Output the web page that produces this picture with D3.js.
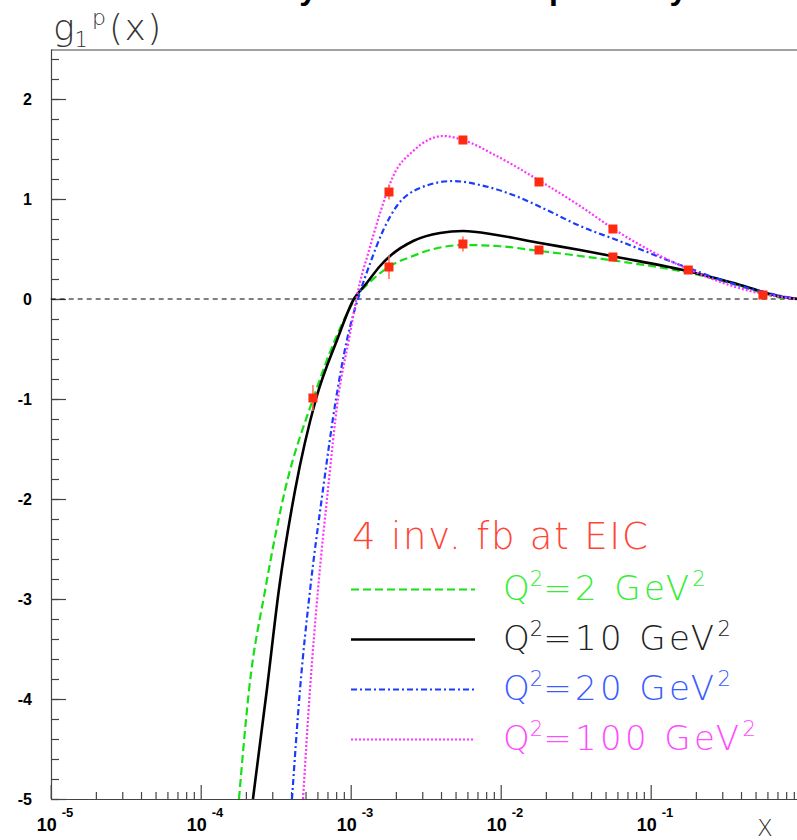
<!DOCTYPE html>
<meta charset="utf-8">
<style>
    body { margin: 0; background: #fff; }
    svg { background-color: #fff; display: block; }
    .tick text { font: bold 16px "Liberation Sans", Arial, sans-serif; fill: #000; }
    .thin { font-family: "DejaVu Sans", sans-serif; font-weight: 200; }
</style>
<body>
<script src="https://cdn.jsdelivr.net/npm/d3@7"></script>
<script>

    var width = 797,
        height = 840;

    // x positions of the curves (Bjorken x) and g1p values
    var xQ2 = [1.80e-4, 2.10e-4, 2.69e-4, 3.65e-4, 5.61e-4, 7.85e-4, 1.07e-3, 1.49e-3, 1.83e-3, 2.5e-3,
               3.38e-3, 5.61e-3, 9.44e-3, 1.83e-2, 3.03e-2, 5.94e-2, 0.183, 0.376, 0.762, 0.96];
    var yQ2 = [-5.0, -3.91, -2.91, -1.91, -1.0, -0.41, 0.0, 0.23, 0.33, 0.42,
               0.49, 0.54, 0.53, 0.48, 0.44, 0.38, 0.26, 0.14, 0.01, 0.0];

    var xQ10 = [2.23e-4, 2.76e-4, 3.32e-4, 4.26e-4, 5.87e-4, 8.11e-4, 1.05e-3, 1.28e-3, 1.57e-3, 1.83e-3,
                2.61e-3, 3.94e-3, 5.61e-3, 9.4e-3, 1.83e-2, 3.38e-2, 5.94e-2, 0.164, 0.376, 0.762, 0.96];
    var yQ10 = [-5.0, -3.91, -2.91, -1.91, -1.0, -0.41, 0.0, 0.16, 0.33, 0.43,
                0.58, 0.66, 0.68, 0.64, 0.56, 0.49, 0.42, 0.29, 0.15, 0.02, 0.0];

    var xQ20 = [4.06e-4, 4.59e-4, 5.36e-4, 6.53e-4, 7.98e-4, 9.44e-4, 1.15e-3, 1.35e-3, 1.65e-3, 2.03e-3,
                2.90e-3, 4.83e-3, 7.28e-3, 1.21e-2, 2.03e-2, 3.38e-2, 5.94e-2, 0.164, 0.376, 0.92];
    var yQ20 = [-5.0, -3.91, -2.91, -1.91, -1.0, -0.41, 0.06, 0.36, 0.69, 0.93,
                1.11, 1.18, 1.14, 1.04, 0.89, 0.73, 0.59, 0.33, 0.14, 0.0];

    var xQ100 = [4.81e-4, 5.35e-4, 6.05e-4, 7.05e-4, 8.22e-4, 9.72e-4, 1.15e-3, 1.31e-3, 1.57e-3, 1.92e-3,
                 2.61e-3, 4.14e-3, 5.62e-3, 9.4e-3, 1.83e-2, 3.38e-2, 5.94e-2, 0.183, 0.459, 0.92];
    var yQ100 = [-5.0, -3.91, -2.91, -1.91, -1.0, -0.41, 0.16, 0.46, 0.86, 1.23,
                 1.48, 1.63, 1.59, 1.43, 1.18, 0.93, 0.68, 0.29, 0.08, 0.0];

    // projected EIC points (4 inv. fb)
    var xPts   = [5.6e-4, 1.8e-3, 1.8e-3, 5.6e-3, 5.6e-3, 1.8e-2, 1.8e-2, 5.6e-2, 5.6e-2, 0.178, 0.56];
    var yPts   = [-0.99, 0.32, 1.07, 0.55, 1.59, 0.49, 1.17, 0.42, 0.70, 0.29, 0.04];
    var errPts = [0.13, 0.12, 0.075, 0.075, 0.03, 0.03, 0.02, 0.03, 0.02, 0.02, 0.02];

    var yMajor = [-5, -4, -3, -2, -1, 0, 1, 2];
    var xDecades = [1e-5, 1e-4, 1e-3, 1e-2, 1e-1];
    var xExp = ["-5", "-4", "-3", "-2", "-1"];

    var series = [
        {x: xQ2,   y: yQ2,   color: "#14e014", text: "#33ee33", dash: "8,4",      w: 2.2, q: "2"},
        {x: xQ10,  y: yQ10,  color: "#000000", text: "#222222", dash: null,       w: 2.6, q: "10"},
        {x: xQ20,  y: yQ20,  color: "#1a3cff", text: "#3a5cff", dash: "6,3,2,3",  w: 2.2, q: "20"},
        {x: xQ100, y: yQ100, color: "#ff33ff", text: "#ff4cff", dash: "2,2",      w: 2.2, q: "100"}
    ];

    var svg = d3.select("body").append("svg")
        .attr("width", width)
        .attr("height", height);

    var x = d3.scaleLog().domain([1e-5, 1]).range([50.7, 800.7]);
    var y = d3.scaleLinear().domain([-5, 2.5]).range([799, 49]);

    svg.append("clipPath").attr("id", "plotclip")
        .append("rect").attr("x", 51).attr("y", 50).attr("width", 760).attr("height", 749);

    // title (mostly above the page edge, only descenders show)
    var title = svg.append("text")
        .attr("y", -1.5)
        .style("font", "bold 32px 'Liberation Sans', Arial, sans-serif");
    title.append("tspan").attr("x", 157).text("Sensitivity of EIC to low-x");
    title.append("tspan").attr("x", 549).text("pol.");
    title.append("tspan").attr("x", 602).text("study");

    // frame top line
    svg.append("line")
        .attr("x1", 51).attr("x2", 800).attr("y1", 50).attr("y2", 50)
        .attr("stroke", "#444").attr("stroke-width", 1.2);

    // y axis: major and minor ticks pointing inward
    var yMinor = d3.range(-5, 2.41, 0.2).map(function(v){ return Math.round(v * 10) / 10; });
    svg.append("g").attr("transform", "translate(51,0)")
        .call(d3.axisLeft(y).tickValues(yMinor).tickSizeInner(-8).tickSizeOuter(0).tickFormat(""))
        .call(function(g){ g.selectAll("line,path").attr("stroke", "#444").attr("stroke-width", 1.2); });
    svg.append("g").attr("transform", "translate(51,0)")
        .call(d3.axisLeft(y).tickValues(yMajor).tickSizeInner(-15).tickSizeOuter(0).tickPadding(19)
            .tickFormat(function(d){ return String(d); }))
        .call(function(g){
            g.select(".domain").remove();
            g.selectAll("line").attr("stroke", "#444").attr("stroke-width", 1.2);
        });

    // x axis
    var xMinor = [];
    xDecades.forEach(function(d){ for (var k = 2; k < 10; k++) xMinor.push(d * k); });
    svg.append("g").attr("transform", "translate(0,799)")
        .call(d3.axisBottom(x).tickValues(xMinor).tickSizeInner(-7).tickSizeOuter(0).tickFormat(""))
        .call(function(g){ g.selectAll("line,path").attr("stroke", "#444").attr("stroke-width", 1.2); });
    svg.append("g").attr("transform", "translate(0,799)")
        .call(d3.axisBottom(x).tickValues(xDecades).tickSizeInner(-14).tickSizeOuter(0).tickFormat(""))
        .call(function(g){
            g.select(".domain").remove();
            g.selectAll("line").attr("stroke", "#444").attr("stroke-width", 1.2);
        });

    var xl = svg.append("g").selectAll("text").data(xDecades).enter().append("text")
        .attr("x", function(d){ return x(d) - 14; })
        .attr("y", 831)
        .style("font", "bold 18px 'Liberation Sans', Arial, sans-serif");
    xl.append("tspan").text("10");
    xl.append("tspan").attr("dx", 5).attr("dy", -14)
        .style("font-size", "13px")
        .text(function(d, i){ return xExp[i]; });

    // axis titles
    var yt = svg.append("text").attr("class", "thin")
        .attr("x", 53).attr("y", 40).attr("fill", "#333")
        .style("font-size", "36px");
    yt.append("tspan").text("g");
    yt.append("tspan").attr("dy", 7).style("font-size", "21px").text("1");
    yt.append("tspan").attr("dx", 4).attr("dy", -22).style("font-size", "22px").text("p");
    yt.append("tspan").attr("dx", 3).attr("dy", 15).style("letter-spacing", "1.5px").text("(x)");

    svg.append("text").attr("class", "thin")
        .attr("x", 757).attr("y", 836).attr("fill", "#333")
        .style("font-size", "23px").text("X");

    // zero line
    svg.append("line")
        .attr("x1", x(1e-5)).attr("x2", 800).attr("y1", y(0)).attr("y2", y(0))
        .attr("stroke", "#000").attr("stroke-width", 1).attr("stroke-dasharray", "5,4");

    // curves
    var line = d3.line()
        .x(function(d){ return x(d[0]); })
        .y(function(d){ return y(d[1]); })
        .curve(d3.curveMonotoneX);

    var curves = svg.append("g").attr("clip-path", "url(#plotclip)");
    series.forEach(function(s){
        curves.append("path")
            .datum(d3.zip(s.x, s.y))
            .attr("d", line)
            .attr("fill", "none")
            .attr("stroke", s.color)
            .attr("stroke-width", s.w)
            .attr("stroke-dasharray", s.dash);
    });

    // projected points with error bars
    var pts = svg.append("g").selectAll("g").data(d3.range(xPts.length)).enter().append("g");
    pts.append("line")
        .attr("x1", function(i){ return x(xPts[i]); })
        .attr("x2", function(i){ return x(xPts[i]); })
        .attr("y1", function(i){ return y(yPts[i] - errPts[i]); })
        .attr("y2", function(i){ return y(yPts[i] + errPts[i]); })
        .attr("stroke", "#ff6a55").attr("stroke-width", 1.5);
    pts.append("rect")
        .attr("x", function(i){ return x(xPts[i]) - 4.5; })
        .attr("y", function(i){ return y(yPts[i]) - 4.5; })
        .attr("width", 9).attr("height", 9)
        .attr("fill", "#ff2a12");

    // legend
    var leg = svg.append("g");
    leg.append("text").attr("class", "thin")
        .attr("x", 352).attr("y", 549)
        .attr("fill", "#ff4636")
        .style("font-size", "37px").style("letter-spacing", "1.8px")
        .text("4 inv. fb at EIC");

    series.forEach(function(s, i){
        var ly = 589.5 + i * 50;
        leg.append("line")
            .attr("x1", 351).attr("x2", 475).attr("y1", ly).attr("y2", ly)
            .attr("stroke", s.color).attr("stroke-width", s.w)
            .attr("stroke-dasharray", s.dash);
        var t = leg.append("text").attr("class", "thin")
            .attr("x", 503).attr("y", ly + 10)
            .attr("fill", s.text)
            .style("font-size", "34px");
        t.append("tspan").text("Q");
        t.append("tspan").attr("dy", -14).style("font-size", "21px").text("2");
        t.append("tspan").attr("dy", 14).style("letter-spacing", "3.4px").text("=" + s.q + " GeV");
        t.append("tspan").attr("dy", -14).style("font-size", "21px").text("2");
    });
</script>
